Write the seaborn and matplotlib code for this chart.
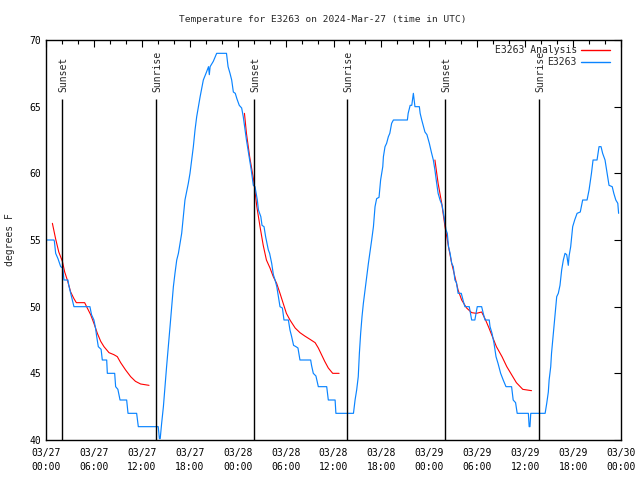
import pandas as pd
import seaborn as sns
import matplotlib
matplotlib.use("Agg")
import matplotlib.pyplot as plt
from matplotlib.lines import Line2D
from matplotlib.ticker import MultipleLocator

# Observed temperature (hours since 03/27 00:00 UTC, deg F)
obs_hours = [0.08, 1.0, 1.05, 1.21, 1.5, 1.84, 2.1, 2.25, 2.75, 2.85, 3.09, 3.5, 5.5, 5.7, 6.0, 6.2, 6.35,
             6.55, 6.9, 7.05, 7.6, 7.68, 8.6, 8.72, 9.0, 9.27, 10.1, 10.27, 11.35, 11.56, 14.05, 14.2, 14.3,
             14.48, 14.7, 14.9, 15.1, 15.32, 15.53, 15.74, 15.95, 16.15, 16.37, 16.58, 16.99, 17.2, 17.4,
             17.82, 18.03, 18.24, 18.45, 18.66, 18.87, 19.08, 19.3, 19.7, 20.1, 20.35, 20.45, 20.55, 20.95,
             21.37, 22.6, 22.8, 23.04, 23.25, 23.46, 23.7, 23.9, 24.2, 24.5, 24.7, 25.1, 25.5, 25.7, 25.96,
             26.17, 26.46, 26.6, 26.9, 27.05, 27.3, 27.5, 27.84, 28.0, 28.26, 28.47, 28.68, 28.9, 29.1, 29.3,
             29.6, 29.8, 30.35, 30.55, 30.76, 31.0, 31.3, 31.55, 31.8, 33.14, 33.25, 33.47, 33.8, 34.1,
             35.15, 35.35, 36.2, 36.3, 38.5, 38.7, 38.9, 39.1, 39.24, 39.4, 39.57, 39.74, 39.95, 40.16,
             40.37, 40.57, 40.78, 41.0, 41.2, 41.4, 41.7, 41.9, 42.17, 42.25, 42.45, 42.65, 42.87, 43.05,
             43.28, 43.5, 45.25, 45.35, 45.6, 45.8, 46.0, 46.2, 46.75, 46.85, 47.05, 47.45, 47.7, 48.0,
             48.25, 48.5, 48.7, 48.92, 49.1, 49.34, 49.6, 49.84, 50.09, 50.25, 50.4, 50.6, 50.8, 51.0,
             51.2, 51.4, 51.6, 52.0, 52.26, 52.45, 53.0, 53.3, 53.7, 54.0, 54.55, 54.75, 54.97, 55.5, 55.6,
             55.85, 56.1, 56.35, 56.6, 56.93, 57.25, 57.6, 58.3, 58.5, 58.8, 59.0, 60.4, 60.5, 60.6, 60.7,
             62.5, 62.7, 62.9, 63.0, 63.2, 63.3, 63.45, 63.6, 63.74, 63.95, 64.15, 64.36, 64.57, 64.78,
             64.99, 65.2, 65.4, 65.5, 65.7, 65.95, 66.2, 66.5, 66.9, 67.2, 67.75, 68.0, 68.3, 68.5, 69.0,
             69.25, 69.5, 69.7, 70.0, 70.2, 70.5, 70.9, 71.1, 71.35, 71.6, 71.7]
obs_temp = [55.0, 55.0, 54.9, 54.0, 53.6, 53.0, 52.9, 52.0, 52.0, 51.6, 51.0, 50.0, 50.0, 49.4, 49.0, 48.4, 47.75,
            47.0, 46.8, 46.0, 46.0, 45.0, 45.0, 44.0, 43.8, 43.0, 43.0, 42.0, 42.0, 41.0, 41.0, 40.1, 40.1,
            41.25, 42.5, 44.0, 45.5, 47.0, 48.5, 50.0, 51.5, 52.5, 53.5, 54.0, 55.5, 56.75, 58.0,
            59.25, 60.0, 61.0, 62.0, 63.25, 64.25, 65.0, 65.75, 67.0, 67.6, 68.0, 67.4, 68.0, 68.4,
            69.0, 69.0, 68.0, 67.5, 67.0, 66.1, 66.0, 65.6, 65.1, 64.9, 64.25, 62.5, 61.0, 60.25, 59.1,
            59.0, 58.0, 57.25, 56.75, 56.1, 56.0, 55.25, 54.25, 54.0, 53.25, 52.4, 52.0, 51.5, 50.75, 50.0,
            49.9, 49.0, 49.0, 48.25, 47.75, 47.1, 47.0, 46.9, 46.0, 46.0, 45.6, 45.0, 44.8, 44.0,
            44.0, 43.0, 43.0, 42.0, 42.0, 43.0, 43.75, 44.75, 46.5, 48.0, 49.25, 50.25, 51.25, 52.25,
            53.25, 54.1, 55.0, 56.0, 57.5, 58.1, 58.2, 59.5, 60.5, 61.25, 62.0, 62.25, 62.75, 63.0,
            63.75, 64.0, 64.0, 64.5, 65.1, 65.1, 66.0, 65.0, 65.0, 64.5, 64.0, 63.1, 62.9, 62.25,
            61.6, 61.0, 60.25, 59.25, 58.5, 58.0, 57.6, 56.75, 55.75, 55.5, 54.5, 54.0, 53.25, 53.0,
            52.0, 51.8, 51.0, 51.0, 50.4, 50.0, 50.0, 49.0, 49.0, 50.0, 50.0, 49.5, 49.0, 49.0, 48.5,
            48.0, 47.25, 46.25, 45.75, 45.0, 44.5, 44.0, 44.0, 43.0, 42.8, 42.0, 42.0, 41.0, 41.0, 42.0,
            42.0, 42.75, 43.6, 44.5, 45.5, 46.5, 47.5, 48.5, 49.5, 50.75, 51.0, 51.6, 52.75, 53.5,
            54.0, 53.9, 53.1, 53.8, 54.5, 56.0, 56.5, 57.0, 57.1, 58.0, 58.0, 58.75, 60.0, 61.0, 61.0,
            62.0, 62.0, 61.5, 61.0, 60.25, 59.1, 59.0, 58.5, 58.0, 57.75, 57.0]

# Analysis, three nightly segments
ana1_hours = [0.8, 1.2, 1.6, 2.05, 2.34, 2.67, 3.09, 3.5, 3.8, 4.84, 5.17, 5.59, 6.0, 6.43, 6.85, 7.26,
              7.89, 8.5, 8.93, 9.35, 9.97, 10.6, 11.2, 11.85, 12.9]
ana1_temp = [56.25, 55.1, 54.1, 53.4, 52.6, 52.0, 51.1, 50.6, 50.3, 50.3, 49.9, 49.4, 48.75, 48.0, 47.4, 47.0,
             46.55, 46.4, 46.25, 45.8, 45.25, 44.75, 44.4, 44.2, 44.1]
ana2_hours = [24.85, 25.1, 25.5, 26.0, 26.4, 26.8, 27.2, 27.6, 28.05, 28.46, 28.88, 29.3, 29.7, 30.1, 30.55,
              31.2, 31.8, 32.4, 33.06, 33.7, 34.1, 34.5, 34.9, 35.35, 35.9, 36.7]
ana2_temp = [64.5, 63.0, 61.25, 59.5, 57.5, 56.0, 54.6, 53.5, 52.9, 52.25, 51.75, 51.0, 50.25, 49.5, 49.0,
             48.4, 48.05, 47.8, 47.55, 47.3, 46.9, 46.4, 45.9, 45.4, 45.0, 45.0]
ana3_hours = [48.7, 49.1, 49.55, 49.96, 50.4, 50.8, 51.2, 51.6, 52.05, 52.67, 53.3, 53.9, 54.55, 54.97, 55.4,
              55.8, 56.4, 57.1, 57.7, 58.3, 58.9, 59.7, 60.8]
ana3_temp = [61.0, 59.25, 57.75, 56.0, 54.5, 53.25, 52.25, 51.25, 50.5, 49.9, 49.55, 49.5, 49.6, 49.1, 48.5,
             47.9, 47.0, 46.25, 45.5, 44.9, 44.3, 43.8, 43.7]

sun_hours = [2.05, 13.8, 26.08, 37.75, 50.0, 61.77]
sun_labels = ["Sunset", "Sunrise", "Sunset", "Sunrise", "Sunset", "Sunrise"]

tick_hours = list(range(0, 73, 6))
tick_labels = ["03/27\n00:00", "03/27\n06:00", "03/27\n12:00", "03/27\n18:00",
               "03/28\n00:00", "03/28\n06:00", "03/28\n12:00", "03/28\n18:00",
               "03/29\n00:00", "03/29\n06:00", "03/29\n12:00", "03/29\n18:00", "03/30\n00:00"]

obs_df = pd.DataFrame({"hour": obs_hours, "temp": obs_temp})
ana_df = pd.concat([
    pd.DataFrame({"hour": h, "temp": t, "seg": i})
    for i, (h, t) in enumerate([(ana1_hours, ana1_temp), (ana2_hours, ana2_temp), (ana3_hours, ana3_temp)])
])

sns.set_style("white")
plt.rcParams["font.family"] = ["DejaVu Sans Mono"]
red = "#ff0000"
blue = "#0a84ff"

fig = plt.figure(figsize=(6.4, 4.8), dpi=100)
ax = fig.add_axes([46 / 640, 40 / 480, 575 / 640, 400 / 480])

sns.lineplot(data=ana_df, x="hour", y="temp", units="seg", estimator=None, color=red, lw=0.8, ax=ax)
sns.lineplot(data=obs_df, x="hour", y="temp", color=blue, lw=0.85, ax=ax)

ax.vlines(sun_hours, 40, 65.6, color="black", lw=1.0)
for h, lab in zip(sun_hours, sun_labels):
    ax.text(h + 0.1, 66.1, lab, rotation=90, ha="center", va="bottom", fontsize=7)

ax.set_xlim(0, 72)
ax.set_ylim(40, 70)
ax.set_xticks(tick_hours)
ax.set_xticklabels(tick_labels, linespacing=1.5)
ax.xaxis.set_minor_locator(MultipleLocator(2))
ax.yaxis.set_major_locator(MultipleLocator(5))
ax.tick_params(which="both", direction="in", top=True, right=True, labelsize=7, colors="black")
ax.tick_params(which="major", length=5, width=0.8)
ax.tick_params(axis="x", which="major", pad=6)
ax.tick_params(which="minor", length=3, width=0.8)
for s in ax.spines.values():
    s.set_color("black")
    s.set_linewidth(1.0)

ax.set_xlabel("")
ax.set_ylabel("degrees F", fontsize=7, labelpad=10)
fig.text(0.505, 0.96, "Temperature for E3263 on 2024-Mar-27 (time in UTC)", ha="center", va="center", fontsize=6.8)

# legend, gnuplot style: right-aligned text then line sample
for i, (lab, col) in enumerate([("E3263 Analysis", red), ("E3263", blue)]):
    yy = 1 - (10 + 12 * i) / 400
    ax.text(531 / 575, yy, lab, transform=ax.transAxes, ha="right", va="center", fontsize=7)
    ax.add_line(Line2D([535 / 575, 564 / 575], [yy, yy], transform=ax.transAxes, color=col, lw=1.0))

fig.savefig("out.png", dpi=100)
